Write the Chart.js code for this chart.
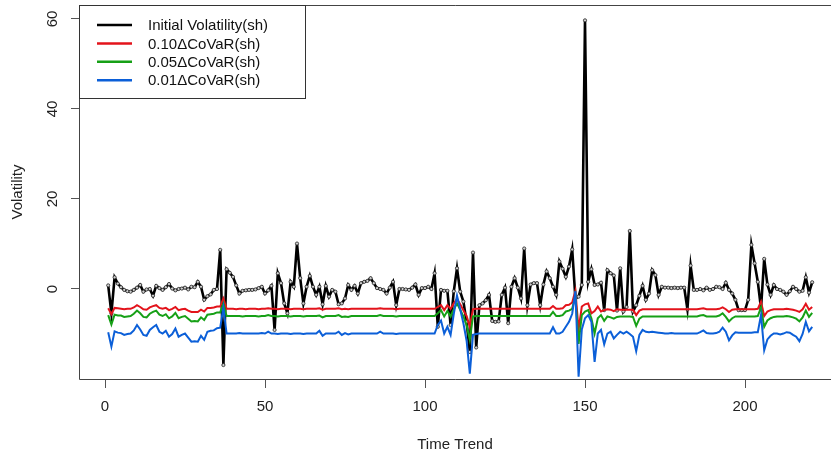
<!DOCTYPE html>
<html>
<head>
<meta charset="utf-8">
<script src="https://cdn.jsdelivr.net/npm/chart.js@4.4.0/dist/chart.umd.min.js"></script>
<style>
  html, body { margin: 0; padding: 0; background: #fff; }
  #wrap { width: 831px; height: 456px; }
</style>
</head>
<body>
<div id="wrap"><canvas id="canvas" width="831" height="456"></canvas></div>
<script>
// series, one value per time step (1..221)
const seriesNames = ['Initial Volatility(sh)', '0.10\u0394CoVaR(sh)', '0.05\u0394CoVaR(sh)', '0.01\u0394CoVaR(sh)'];
const xTicks = [0, 50, 100, 150, 200];
const yTicks = [0, 20, 40, 60];

const initialVol = [
  0.8, -5.4, 2.6, 1.2, 0.4, -0.2, -0.5, -0.6, -0.2, 0.3,
  0.9, -0.6, -0.1, 0.0, -1.5, 0.7, 0.2, -0.2, 0.4, 1.1,
  0.1, -0.3, 0.0, 0.1, 0.3, -0.1, 0.5, 0.4, 1.6, 0.5,
  -2.4, -1.6, -1.2, -0.2, 0.0, 8.7, -16.9, 4.4, 3.6, 2.7,
  0.8, -1.0, -0.4, -0.3, -0.2, -0.2, -0.1, 0.2, 0.5, -1.0,
  -0.3, 0.7, -9.1, 3.5, 1.3, -3.2, -5.4, 1.6, 0.5, 10.1,
  2.4, -3.2, 0.5, 2.9, 0.5, -1.3, 0.5, -3.4, 0.7, -1.7,
  -0.2, -0.6, -3.4, -3.2, -2.1, 0.9, -0.2, 0.7, -1.0, 1.3,
  1.6, 1.8, 2.4, 1.3, 0.2, 0.0, -0.2, -1.0, 0.3, 1.6,
  -3.6, 0.0, 0.0, -0.1, -0.2, 0.3, 1.0, -1.3, 0.2, 0.2,
  0.5, 0.0, 3.5, -8.4, -0.2, -0.4, -0.4, -8.0, -0.5, 4.6,
  -0.6, -2.8, -7.3, -14.0, 8.1, -13.0, -3.6, -3.2, -2.5, -1.3,
  -7.1, -7.3, -7.2, -1.3, 0.3, -7.6, 0.5, 2.4, 0.3, -2.1,
  9.0, -3.6, 1.0, 1.3, 1.3, -3.6, 1.0, 3.9, 2.4, 0.5,
  -1.3, 6.1, 4.5, 2.7, 5.0, 8.8, -2.1, -1.7, 0.9, 59.7,
  1.6, 4.4, 0.9, 1.0, 1.4, -4.7, 4.2, 3.5, 3.0, -4.8,
  4.6, -5.0, -4.0, 12.9, -5.0, -3.6, -1.5, 0.7, -2.4, -1.0,
  4.2, 3.1, -1.3, 0.5, 0.3, 0.3, 0.2, 0.3, 0.2, 0.3,
  0.3, -4.5, 5.2, -0.2, -0.2, 0.0, -0.3, 0.3, -0.2, 0.0,
  0.5, 0.4, 0.0, 1.4, -0.2, -1.0, -2.4, -4.7, -4.7, -4.7,
  -2.4, 9.8, 5.7, 1.6, -4.3, 6.7, 1.0, -1.3, 0.9, 0.0,
  -0.2, -0.6, -1.3, -0.5, 0.5, 0.0, -0.6, -0.4, 2.6, -0.8,
  1.5
];

const covar10 = [
  -4.3, -5.6, -4.2, -4.3, -4.4, -4.5, -4.4, -4.4, -4.1, -3.6,
  -4.0, -4.5, -4.6, -4.1, -3.8, -3.6, -4.2, -4.4, -4.2, -4.7,
  -4.4, -4.0, -4.7, -4.5, -4.4, -4.8, -5.1, -5.1, -5.1, -4.6,
  -5.0, -4.2, -4.2, -4.1, -3.9, -3.9, -2.1, -4.4, -4.4, -4.4,
  -4.5, -4.4, -4.4, -4.5, -4.4, -4.4, -4.4, -4.5, -4.4, -4.4,
  -4.3, -4.4, -4.4, -4.5, -4.4, -4.4, -4.4, -4.5, -4.4, -4.4,
  -4.4, -4.5, -4.4, -4.4, -4.4, -4.4, -4.3, -4.6, -4.4, -4.4,
  -4.4, -4.4, -4.3, -4.5, -4.4, -4.5, -4.4, -4.4, -4.4, -4.4,
  -4.4, -4.4, -4.4, -4.4, -4.4, -4.3, -4.4, -4.4, -4.4, -4.4,
  -4.5, -4.4, -4.4, -4.4, -4.4, -4.4, -4.4, -4.4, -4.4, -4.4,
  -4.4, -4.4, -4.4, -4.0, -3.6, -4.7, -3.6, -4.4, -3.2, -2.2,
  -3.4, -4.7, -6.0, -8.4, -4.5, -4.4, -4.4, -4.4, -4.4, -4.4,
  -4.4, -4.4, -4.4, -4.4, -4.4, -4.4, -4.4, -4.4, -4.4, -4.4,
  -4.4, -4.4, -4.4, -4.4, -4.4, -4.4, -4.4, -4.4, -4.4, -3.8,
  -4.4, -4.4, -4.3, -3.6, -3.5, -3.0, -0.4, -9.0, -3.9, -3.4,
  -3.2, -5.4, -4.9, -3.9, -5.0, -4.7, -4.5, -4.6, -4.9, -4.5,
  -4.6, -4.6, -4.6, -4.6, -4.6, -5.8, -4.8, -4.5, -4.5, -4.5,
  -4.5, -4.5, -4.5, -4.5, -4.5, -4.5, -4.5, -4.5, -4.5, -4.5,
  -4.5, -4.5, -4.5, -4.5, -4.5, -4.4, -4.3, -4.5, -4.5, -4.5,
  -4.5, -4.4, -4.1, -4.5, -5.1, -4.6, -4.5, -4.5, -4.5, -4.5,
  -4.5, -4.5, -4.5, -4.4, -2.8, -6.0, -5.0, -4.7, -4.5, -4.5,
  -4.5, -4.5, -4.4, -4.5, -4.6, -4.8, -5.1, -4.5, -3.3, -4.6,
  -4.0
];

const covar05 = [
  -5.8, -7.9, -5.7, -5.9, -5.9, -6.2, -6.1, -6.0, -5.5, -4.8,
  -5.4, -6.2, -6.3, -5.5, -5.1, -4.8, -5.7, -6.0, -5.6, -6.5,
  -6.1, -5.3, -6.5, -6.2, -6.0, -6.6, -7.2, -7.1, -7.2, -6.3,
  -6.9, -5.7, -5.6, -5.5, -5.2, -5.2, -3.2, -6.0, -6.0, -6.0,
  -6.0, -6.0, -6.1, -6.0, -6.0, -6.0, -6.0, -6.1, -6.0, -6.0,
  -5.8, -6.0, -6.0, -6.1, -6.0, -6.0, -6.0, -6.1, -6.0, -6.0,
  -6.0, -6.1, -6.0, -6.0, -6.0, -6.0, -5.9, -6.3, -6.0, -6.0,
  -6.0, -6.0, -5.8, -6.2, -6.1, -6.2, -6.0, -6.0, -6.0, -6.0,
  -6.0, -6.0, -6.0, -6.0, -6.0, -5.8, -6.0, -6.0, -6.0, -6.0,
  -6.1, -6.0, -6.0, -6.0, -6.0, -6.0, -6.0, -6.0, -6.0, -6.0,
  -6.0, -6.0, -6.0, -5.4, -4.7, -6.1, -4.9, -6.1, -4.5, -3.2,
  -4.6, -6.1, -8.0, -11.3, -6.1, -6.0, -6.0, -6.0, -6.0, -6.0,
  -6.0, -6.0, -6.0, -6.0, -6.0, -6.0, -6.0, -6.0, -6.0, -6.0,
  -6.0, -6.0, -6.0, -6.0, -6.0, -6.0, -6.0, -6.0, -6.0, -5.1,
  -6.0, -6.0, -5.8, -5.0, -4.8, -4.4, -1.5, -12.2, -5.8, -5.0,
  -4.7, -6.5, -9.9, -6.5, -5.8, -7.1, -6.1, -6.3, -6.6, -6.2,
  -6.1, -6.1, -6.1, -6.1, -6.2, -8.2, -6.6, -6.1, -6.1, -6.1,
  -6.1, -6.1, -6.1, -6.1, -6.1, -6.1, -6.1, -6.1, -6.1, -6.1,
  -6.1, -6.1, -6.1, -6.1, -6.1, -5.9, -5.8, -6.1, -6.1, -6.1,
  -6.1, -5.9, -5.4, -6.2, -7.2, -6.5, -6.1, -6.1, -6.1, -6.1,
  -6.1, -6.1, -6.1, -6.0, -4.1, -8.4, -7.0, -6.5, -6.2, -6.1,
  -6.1, -6.1, -6.0, -6.1, -6.3, -6.6, -7.2, -6.3, -4.8, -6.2,
  -5.3
];

const covar01 = [
  -9.6, -12.8, -9.4, -9.7, -9.8, -10.2, -10.0, -9.9, -9.2, -8.0,
  -9.0, -10.2, -10.4, -9.1, -8.5, -8.0, -9.5, -9.9, -9.3, -10.6,
  -10.0, -8.8, -10.6, -10.2, -9.9, -10.8, -11.7, -11.6, -11.7, -10.4,
  -11.3, -9.5, -9.3, -9.2, -8.7, -8.6, -4.1, -9.9, -9.9, -9.9,
  -9.9, -9.8, -9.9, -9.9, -9.9, -9.9, -9.9, -9.9, -9.8, -9.9,
  -9.5, -9.9, -9.9, -10.0, -9.9, -9.9, -9.9, -10.0, -9.9, -9.9,
  -9.9, -10.0, -9.9, -9.9, -9.9, -9.9, -9.3, -10.4, -9.9, -9.9,
  -9.9, -9.9, -9.5, -10.2, -9.8, -10.1, -9.9, -9.9, -9.9, -9.9,
  -9.9, -9.9, -9.9, -9.9, -9.9, -9.5, -9.9, -9.9, -9.9, -9.9,
  -10.0, -9.9, -9.9, -9.9, -9.9, -9.9, -9.9, -9.9, -9.9, -9.9,
  -9.9, -9.9, -9.9, -8.0, -7.0, -9.9, -8.4, -10.2, -5.5, -1.5,
  -4.5, -7.6, -11.5, -18.8, -10.2, -10.0, -9.9, -9.9, -9.9, -9.9,
  -9.9, -9.9, -9.9, -9.9, -9.9, -9.9, -9.9, -9.9, -9.9, -9.9,
  -9.9, -9.9, -9.9, -9.9, -9.9, -9.9, -9.9, -9.9, -9.9, -8.5,
  -9.9, -9.9, -9.5, -8.4, -7.3, -5.5, -0.5, -19.5, -9.0, -6.5,
  -5.8, -7.3, -16.2, -9.9, -9.1, -12.3, -9.9, -9.5, -11.0, -10.2,
  -9.5, -9.9, -9.5, -10.0, -10.6, -13.8, -10.2, -9.1, -9.5, -9.6,
  -9.5, -9.6, -9.7, -9.8, -9.9, -9.9, -9.8, -9.9, -9.9, -9.9,
  -9.9, -9.9, -9.9, -9.9, -9.9, -9.6, -9.2, -9.8, -9.9, -9.9,
  -9.8, -9.5, -8.6, -9.5, -11.4, -10.3, -9.6, -9.7, -9.7, -9.7,
  -9.7, -9.7, -9.6, -9.6, -5.8, -13.6, -11.2, -10.4, -9.9, -9.9,
  -10.1, -9.9, -9.6, -9.7, -10.2, -10.6, -11.6, -10.0, -7.3, -9.4,
  -8.4
];

const timeSteps = initialVol.map((v, i) => i + 1);
const lineColors = ['#000000', '#e3131b', '#16a016', '#0b5fd8'];

const FONT = 'Liberation Sans, Arial, sans-serif';

// box round the plot, rotated y labels (R style) and the legend
const rStylePlugin = {
  id: 'rStyle',
  afterDraw(chart) {
    const ctx = chart.ctx;
    const a = chart.chartArea;
    const y = chart.scales.y;
    ctx.save();
    ctx.strokeStyle = '#444';
    ctx.lineWidth = 1;
    ctx.beginPath();
    ctx.moveTo(chart.width, a.top + 0.5);
    ctx.lineTo(a.left + 0.5, a.top + 0.5);
    ctx.lineTo(a.left + 0.5, a.bottom + 0.5);
    ctx.lineTo(chart.width, a.bottom + 0.5);
    ctx.stroke();

    // y tick labels, reading upward
    ctx.fillStyle = '#222';
    ctx.font = '15px ' + FONT;
    ctx.textAlign = 'center';
    ctx.textBaseline = 'middle';
    yTicks.forEach(v => {
      ctx.save();
      ctx.translate(53, y.getPixelForValue(v));
      ctx.rotate(-Math.PI / 2);
      ctx.fillText(String(v), 0, 0);
      ctx.restore();
    });

    // legend box in the top-left corner
    const bx = a.left + 0.5, by = a.top + 0.5, bw = 226, bh = 93;
    ctx.fillStyle = '#fff';
    ctx.fillRect(bx, by, bw, bh);
    ctx.strokeStyle = '#333';
    ctx.strokeRect(bx, by, bw, bh);
    chart.data.datasets.forEach((ds, i) => {
      const ly = 25 + i * 18.4;
      ctx.strokeStyle = ds.borderColor;
      ctx.lineWidth = 2.5;
      ctx.beginPath();
      ctx.moveTo(97, ly);
      ctx.lineTo(132, ly);
      ctx.stroke();
      ctx.fillStyle = '#111';
      ctx.textAlign = 'left';
      ctx.fillText(ds.label, 148, ly + 1);
    });
    ctx.restore();
  }
};

const datasets = [
  {
    label: seriesNames[0], data: initialVol, borderColor: lineColors[0],
    borderWidth: 2.6, pointRadius: 1.6, pointBackgroundColor: '#d0d0d0',
    pointBorderColor: '#222', pointBorderWidth: 0.8, order: 4
  },
  { label: seriesNames[1], data: covar10, borderColor: lineColors[1], borderWidth: 2, pointRadius: 0, order: 3 },
  { label: seriesNames[2], data: covar05, borderColor: lineColors[2], borderWidth: 2, pointRadius: 0, order: 2 },
  { label: seriesNames[3], data: covar01, borderColor: lineColors[3], borderWidth: 2, pointRadius: 0, order: 1 }
];

const chart = new Chart(document.getElementById('canvas'), {
  type: 'line',
  data: { labels: timeSteps, datasets: datasets },
  options: {
    responsive: false,
    animation: false,
    devicePixelRatio: 1,
    layout: { autoPadding: false, padding: { left: 0, right: 0, top: 5, bottom: 0 } },
    plugins: { legend: { display: false }, tooltip: { enabled: false } },
    elements: { line: { tension: 0, fill: false } },
    scales: {
      x: {
        type: 'linear',
        min: -8.125,
        max: 226.875,
        afterBuildTicks: s => { s.ticks = xTicks.map(v => ({ value: v })); },
        afterFit: s => { s.height = 77; },
        ticks: { color: '#222', font: { family: FONT, size: 15 }, padding: 10, maxRotation: 0 },
        grid: { display: true, drawOnChartArea: false, drawTicks: true, tickLength: 9, color: '#555', tickColor: '#555' },
        border: { display: false },
        title: { display: true, text: 'Time Trend', color: '#222', font: { family: FONT, size: 15 }, padding: { top: 0, bottom: 2 } }
      },
      y: {
        min: -20,
        max: 63.11,
        afterBuildTicks: s => { s.ticks = yTicks.map(v => ({ value: v })); },
        afterFit: s => { s.width = 79; },
        // labels are drawn rotated by the plugin above
        ticks: { color: 'rgba(0,0,0,0)', font: { family: FONT, size: 1 }, padding: 0 },
        grid: { display: true, drawOnChartArea: false, drawTicks: true, tickLength: 8, color: '#555', tickColor: '#555' },
        border: { display: false },
        title: { display: true, text: 'Volatility', color: '#222', font: { family: FONT, size: 15 }, padding: { top: 9, bottom: 0 } }
      }
    }
  },
  plugins: [rStylePlugin]
});
</script>
</body>
</html>
